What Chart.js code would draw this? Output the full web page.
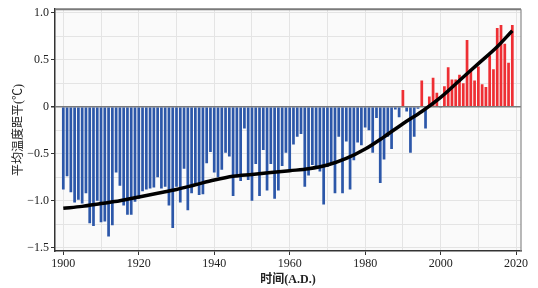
<!DOCTYPE html>
<html>
<head>
<meta charset="utf-8">
<script src="https://cdn.jsdelivr.net/npm/chart.js@4"></script>
<style>
  body { margin: 0; background: #ffffff; }
  #chart { display: block; }
</style>
</head>
<body>
<canvas id="chart" width="538" height="288"></canvas>
<script>
// yearly temperature anomaly, 1900-2019
const firstYear = 1900;
const anomalies = [
  -0.88, -0.74, -0.91, -1.02, -0.99, -1.03, -0.92, -1.24, -1.27, -1.00,
  -1.23, -1.22, -1.38, -1.26, -0.70, -0.84, -1.05, -1.15, -1.15, -1.01,
  -0.98, -0.90, -0.88, -0.87, -0.86, -0.75, -0.87, -0.85, -1.05, -1.29,
  -0.85, -1.02, -0.66, -1.10, -0.92, -0.82, -0.94, -0.93, -0.60, -0.48,
  -0.70, -0.75, -0.67, -0.49, -0.53, -0.95, -0.75, -0.79, -0.23, -0.78,
  -1.00, -0.61, -0.95, -0.46, -0.89, -0.61, -0.98, -0.89, -0.63, -0.49,
  -0.67, -0.40, -0.32, -0.29, -0.85, -0.73, -0.62, -0.64, -0.69, -1.04,
  -0.64, -0.62, -0.92, -0.32, -0.92, -0.37, -0.88, -0.57, -0.38, -0.41,
  -0.22, -0.25, -0.49, -0.12, -0.81, -0.56, -0.32, -0.45, -0.03, -0.11,
   0.18, -0.05, -0.49, -0.32, -0.02,  0.28, -0.23,  0.11,  0.31,  0.15,
  -0.01,  0.22,  0.42,  0.29,  0.29,  0.34,  0.25,  0.71,  0.40,  0.28,
   0.43,  0.24,  0.21,  0.55,  0.40,  0.84,  0.87,  0.67,  0.47,  0.87
];
const years = anomalies.map((v, i) => firstYear + i);

// smoothed trend
const trendYears = [1900, 1905, 1910, 1915, 1920, 1925, 1930, 1935, 1940, 1945, 1950, 1955,
                    1960, 1965, 1970, 1975, 1980, 1985, 1990, 1995, 2000, 2005, 2010, 2015, 2019];
const trendValues = [-1.08, -1.06, -1.03, -1.00, -0.96, -0.92, -0.88, -0.83, -0.78, -0.74, -0.72, -0.70,
                     -0.68, -0.66, -0.62, -0.55, -0.45, -0.32, -0.18, -0.05, 0.10, 0.28, 0.46, 0.64, 0.81];

const yLabels = { '1': '1.0', '0.5': '0.5', '0': '0', '-0.5': '\u22120.5', '-1': '\u22121.0', '-1.5': '\u22121.5' };

const serif = "'Liberation Serif', 'Noto Sans CJK SC', serif";

// plot background + top/right frame
const framePlugin = {
    id: 'frame',
    beforeDraw(chart) {
        const a = chart.chartArea;
        const ctx = chart.ctx;
        ctx.save();
        ctx.fillStyle = '#fafafa';
        ctx.fillRect(a.left, a.top, a.right - a.left, a.bottom - a.top);
        ctx.restore();
    },
    afterDraw(chart) {
        const a = chart.chartArea;
        const ctx = chart.ctx;
        ctx.save();
        ctx.strokeStyle = '#7a7a7a';
        ctx.lineWidth = 2;
        ctx.beginPath();
        ctx.moveTo(a.left, a.top);
        ctx.lineTo(a.right, a.top);
        ctx.stroke();
        ctx.lineWidth = 1.2;
        ctx.strokeStyle = '#8a8a8a';
        ctx.beginPath();
        ctx.moveTo(a.right, a.top);
        ctx.lineTo(a.right, a.bottom);
        ctx.stroke();
        ctx.restore();
    }
};

const ctx = document.getElementById('chart').getContext('2d');
new Chart(ctx, {
    data: {
        datasets: [
            {
                type: 'line',
                data: trendYears.map((y, i) => ({ x: y, y: trendValues[i] })),
                borderColor: '#000000',
                borderWidth: 3.5,
                pointRadius: 0,
                cubicInterpolationMode: 'monotone',
                order: 0
            },
            {
                type: 'bar',
                data: years.map((y, i) => ({ x: y, y: anomalies[i] })),
                backgroundColor: c => (c.raw && c.raw.y > 0 ? '#ee2f34' : '#2c57a9'),
                barPercentage: 0.72,
                categoryPercentage: 1,
                order: 1
            }
        ]
    },
    options: {
        responsive: false,
        animation: false,
        devicePixelRatio: 1,
        layout: { padding: { left: 0, right: 17, top: 7, bottom: 0 } },
        plugins: {
            legend: { display: false },
            tooltip: { enabled: false }
        },
        scales: {
            x: {
                type: 'linear',
                offset: false,
                min: 1897.8,
                max: 2021.3,
                afterFit: s => { s.height = 37; },
                ticks: {
                    stepSize: 10,
                    includeBounds: false,
                    autoSkip: false,
                    maxRotation: 0,
                    padding: 2,
                    color: '#222',
                    font: { family: serif, size: 12 },
                    callback: v => (v % 20 === 0 ? String(v) : '')
                },
                grid: {
                    offset: false,
                    color: '#e4e4e4',
                    tickLength: 4,
                    tickColor: c => (c.tick && c.tick.value % 20 === 0 ? '#333' : 'rgba(0,0,0,0)')
                },
                border: { color: '#333', width: 1.5 },
                title: {
                    display: true,
                    text: '时间(A.D.)',
                    color: '#222',
                    font: { family: serif, size: 12, weight: 'bold' },
                    padding: { top: 0, bottom: 1 }
                }
            },
            y: {
                min: -1.535,
                max: 1.039,
                afterFit: s => { s.width = 55; },
                ticks: {
                    stepSize: 0.25,
                    includeBounds: false,
                    autoSkip: false,
                    padding: 2,
                    color: '#222',
                    font: { family: serif, size: 12 },
                    callback: v => {
                        const k = String(Math.round(v * 100) / 100);
                        return yLabels[k] !== undefined ? yLabels[k] : '';
                    }
                },
                grid: {
                    color: c => (c.tick && Math.abs(c.tick.value) < 1e-6 ? '#7a7a7a' : '#e4e4e4'),
                    lineWidth: c => (c.tick && Math.abs(c.tick.value) < 1e-6 ? 1.5 : 1),
                    tickLength: 4,
                    tickColor: c => (c.tick && Math.abs(c.tick.value * 2 - Math.round(c.tick.value * 2)) < 1e-6 ? '#333' : 'rgba(0,0,0,0)')
                },
                border: { color: '#333', width: 1.5 },
                title: {
                    display: true,
                    text: '平均温度距平(℃)',
                    color: '#222',
                    font: { family: serif, size: 12 },
                    padding: { top: 12, bottom: 0 }
                }
            }
        }
    },
    plugins: [framePlugin]
});
</script>
</body>
</html>
